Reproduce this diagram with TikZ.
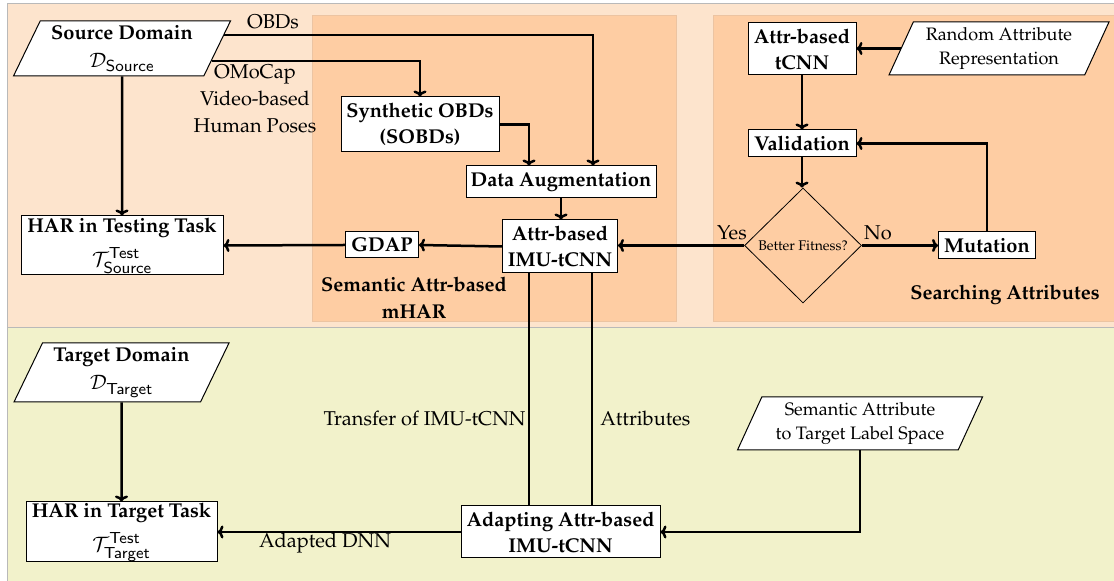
\documentclass[tikz,border=0pt]{standalone}
\usepackage[T1]{fontenc}
\usepackage{mathpazo}
\usetikzlibrary{shapes.geometric,arrows.meta,calc}
\definecolor{peach}{RGB}{253,228,205}
\definecolor{orng}{RGB}{254,205,163}
\definecolor{grn}{RGB}{242,242,203}
\definecolor{bandline}{RGB}{185,185,185}
\definecolor{orline}{RGB}{236,196,162}
\begin{document}
\begin{tikzpicture}[x=0.5pt,y=-0.5pt,
  sz/.style 2 args={minimum width=#1*0.5pt,minimum height=#2*0.5pt},
  box/.style={draw=black,line width=0.5pt,fill=white,font=\bfseries,align=center,inner sep=0pt},
  para/.style={trapezium,trapezium left angle=60,trapezium right angle=120,trapezium stretches body,draw=black,line width=0.5pt,fill=white,align=center,inner sep=0pt},
  conn/.style={line width=1.25pt},
  arr/.style={conn,-{To[length=3pt,width=6.5pt]}},
  lbl/.style={align=center,inner sep=0pt},
  grp/.style={align=center,inner sep=0pt,font=\bfseries},
]
\useasboundingbox (0,0) rectangle (1114,581);
% backgrounds
\fill[grn] (7,328) rectangle (1120,590);
\draw[bandline,line width=0.5pt] (7,590) -- (7,328);
\draw[bandline,line width=0.5pt,fill=peach] (1120,4) -- (7,4) -- (7,328) -- (1120,328);
\draw[orline,line width=0.5pt,fill=orng] (312,16) rectangle (676,322);
\draw[orline,line width=0.5pt,fill=orng] (1120,16) -- (713,16) -- (713,322) -- (1120,322);

% nodes
\node[para,sz={217}{55}] (src) at (122,48.5) {\textbf{Source Domain}\\[2pt] $\mathcal{D}_{\mathsf{Source}}$};
\node[box,sz={202}{59}] (har1) at (122,245.5) {HAR in Testing Task\\[5pt] \mdseries$\mathcal{T}^{\mathsf{Test}}_{\mathsf{Source}}$};
\node[box,sz={158}{55}] (syn) at (420,124.5) {Synthetic OBDs\\[1pt](SOBDs)};
\node[box,sz={190}{32}] (aug) at (561,182) {Data Augmentation};
\node[box,sz={115}{53}] (imu) at (560,246.5) {Attr-based\\[1pt]IMU-tCNN};
\node[box,sz={73}{26}] (gdap) at (382,245) {GDAP};
\node[box,sz={108}{52}] (tcnn) at (802,49) {Attr-based\\[1pt]tCNN};
\node[para,sz={220}{53},font=\small] (rand) at (999,48.5) {Random Attribute\\[1pt]Representation};
\node[box,sz={108}{27}] (val) at (802,143.5) {Validation};
\node[diamond,draw=black,line width=0.4pt,sz={117}{115},inner sep=0pt,font=\scriptsize] (dia) at (803,245.5) {Better Fitness?};
\node[box,sz={97}{27}] (mut) at (987,245.5) {Mutation};
\node[para,sz={215}{59}] (tgt) at (121.5,372.5) {\textbf{Target Domain}\\[2pt] $\mathcal{D}_{\mathsf{Target}}$};
\node[box,sz={191}{60}] (har2) at (121.5,532) {HAR in Target Task\\[5pt] \mdseries$\mathcal{T}^{\mathsf{Test}}_{\mathsf{Target}}$};
\node[box,sz={199}{52}] (adapt) at (560.5,532) {Adapting Attr-based\\[1pt]IMU-tCNN};
\node[para,sz={245}{53},font=\small] (sem) at (860,423.5) {Semantic Attribute\\[1pt]to Target Label Space};

% labels
\node[lbl] (lobd) at (273,22) {OBDs};
\node[lbl] (lomo) at (255,99) {OMoCap\\[1.5pt]Video-based\\[1.5pt]Human Poses};
\node[grp] (gsem) at (414,298) {Semantic Attr-based\\[1.5pt]mHAR};
\node[grp] (gsea) at (1005,295) {Searching Attributes};
\node[lbl] (lyes) at (732,233) {Yes};
\node[lbl] (lno) at (878,233) {No};
\node[lbl,anchor=east] (ltr) at (526,418) {Transfer of IMU-tCNN};
\node[lbl,anchor=west] (latt) at (600,418) {Attributes};
\node[lbl] (lada) at (325,543) {Adapted DNN};

% connectors
\draw[arr] ($(src.top right corner)!0.255!(src.bottom right corner)$) -| ($(aug.north)+(32,0)$);
\draw[arr] ($(src.top right corner)!0.727!(src.bottom right corner)$) -| (syn.north);
\draw[arr] (src.south) -- (har1.north);
\draw[arr] (syn.east) -| ($(aug.north)+(-32,0)$);
\draw[arr] (aug.south) -- (aug.south |- imu.north);
\draw[arr] (imu.west) -- (gdap.east);
\draw[arr] (gdap.west) -- (har1.east);
\draw[arr] ($(rand.top left corner)!0.5!(rand.bottom left corner)$) -- (tcnn.east |- rand.center);
\draw[arr] (tcnn.south) -- (val.north);
\draw[arr] (val.south) -- (val.south |- dia.north);
\draw[arr] (dia.east) -- (mut.west);
\draw[arr] (mut.north) |- (val.east);
\draw[arr] (dia.west) -- (imu.east |- dia.west);
\coordinate (t1) at ($(imu.south)+(-31,0)$);
\coordinate (t2) at ($(imu.south)+(32,0)$);
\coordinate (b1) at ($(adapt.north)+(-31.5,0)$);
\coordinate (b2) at ($(adapt.north)+(31.5,0)$);
\draw[conn] (t1) -- (b1);
\draw[conn] (t2) -- (b2);
\draw[arr] (tgt.south) -- (har2.north);
\draw[arr] (adapt.west) -- (har2.east);
\draw[arr] (sem.south) |- (adapt.east);
\end{tikzpicture}
\end{document}
